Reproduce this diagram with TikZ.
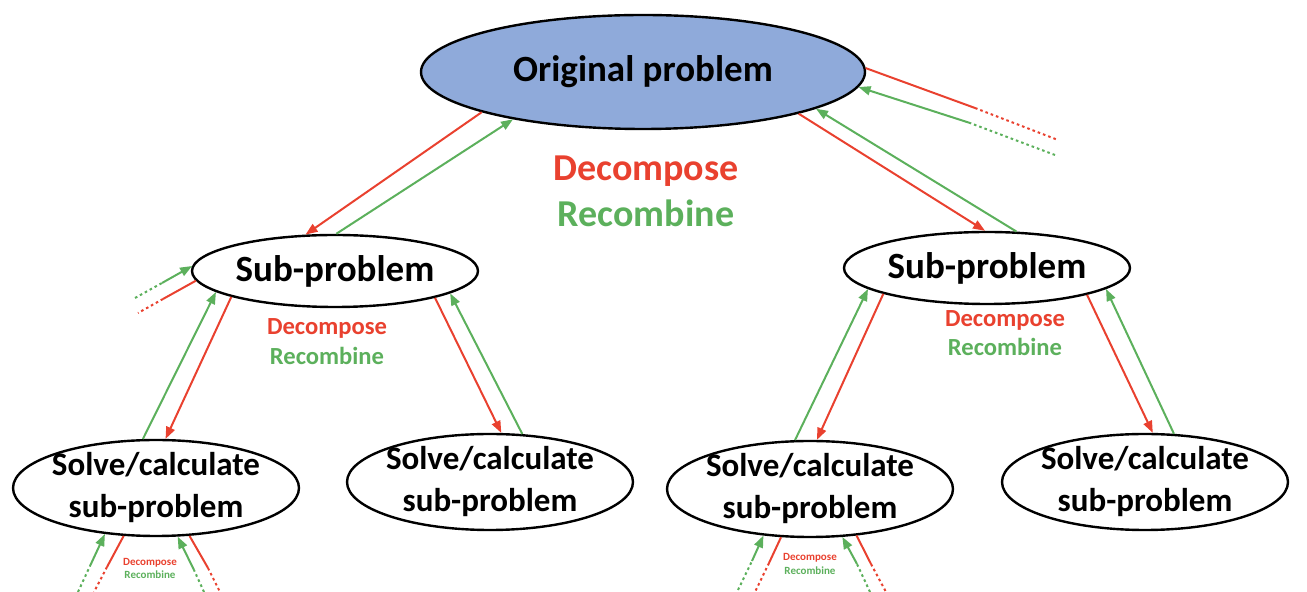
\documentclass[tikz,border=0pt]{standalone}
\usepackage{fontspec}
\setmainfont{Carlito}
\usetikzlibrary{arrows.meta,shapes.geometric}
\definecolor{decred}{RGB}{233,65,47}
\definecolor{recgreen}{RGB}{92,176,92}
\definecolor{origblue}{RGB}{143,170,218}
\newcommand\OpLabels[5]{%
    \node[oplabel,text=decred,font=\fontsize{#5}{#5}\selectfont\bfseries] (#1Dec) at (#2,#3) {Decompose};
    \node[oplabel,text=recgreen,font=\fontsize{#5}{#5}\selectfont\bfseries] (#1Rec) at (#2,#3+#4) {Recombine};
}
\begin{document}
\begin{tikzpicture}[x=0.5pt,y=-0.5pt,
    problem/.style={ellipse,draw,line width=1.2pt,inner sep=-3pt,align=center,font=\bfseries},
    subproblem/.style={problem,minimum width=143pt,minimum height=36pt,font=\fontsize{18.5}{20}\selectfont\bfseries},
    solve/.style={problem,minimum width=143pt,minimum height=48pt,font=\fontsize{16.5}{21}\selectfont\bfseries},
    oplabel/.style={inner sep=0pt,text depth=0pt},
    decomp/.style={draw=decred,line width=1pt},
    recomb/.style={draw=recgreen,line width=1pt},
    tip/.style={-{Triangle[length=6pt,width=4.5pt]}},
    loose/.style={dash pattern=on 1.3pt off 1.5pt}]
    \useasboundingbox (0,0) rectangle (1307,592);
    \node[problem,fill=origblue,minimum width=222pt,minimum height=57pt,font=\fontsize{18.5}{20}\selectfont\bfseries] (orig) at (643,72) {Original problem};
    \node[subproblem] (subL) at (335,271) {Sub-problem};
    \node[subproblem] (subR) at (987,268) {Sub-problem};
    \node[solve] (solveLL) at (156,488) {Solve/calculate\\sub-problem};
    \node[solve] (solveLR) at (490,482) {Solve/calculate\\sub-problem};
    \node[solve] (solveRL) at (810,489) {Solve/calculate\\sub-problem};
    \node[solve] (solveRR) at (1145,482) {Solve/calculate\\sub-problem};
    \OpLabels{top}{646}{168}{45}{19}
    \OpLabels{left}{327}{327}{29}{12.3}
    \OpLabels{right}{1005}{319}{28}{12.3}
    \OpLabels{lowL}{150}{562}{13}{5.5}
    \OpLabels{lowR}{810}{557}{14}{5.5}
    % original <-> sub-problems
    \draw[decomp,tip] (orig.194.7) -- (subL.129.8);
    \draw[recomb,tip] (subL.88.4) -- (orig.200.6);
    \draw[decomp,tip] (orig.345.7) -- (subR.93.1);
    \draw[recomb,tip] (subR.51.3) -- (orig.348.7);
    % sub-problems <-> solve
    \draw[decomp,tip] (subL.194.3) -- (solveLL.79.8);
    \draw[recomb,tip] (solveLL.105.6) -- (subL.190.6);
    \draw[decomp,tip] (subL.345.7) -- (solveLR.77.7);
    \draw[recomb,tip] (solveLR.56) -- (subL.349.4);
    \draw[decomp,tip] (subR.194.4) -- (solveRL.82.5);
    \draw[recomb,tip] (solveRL.107.5) -- (subR.190);
    \draw[decomp,tip] (subR.345.6) -- (solveRR.81.9);
    \draw[recomb,tip] (solveRR.59.7) -- (subR.350.4);
    % loose ends
    \coordinate (trDa) at (975,108); \coordinate (trDb) at (1058,140);
    \coordinate (trRa) at (970,123); \coordinate (trRb) at (1055,155);
    \draw[decomp] (orig.1) -- (trDa);
    \draw[decomp,loose] (trDa) -- (trDb);
    \draw[recomb,loose] (trRb) -- (trRa);
    \draw[recomb,tip] (trRa) -- (orig.356.6);
    \coordinate (lRa) at (162,283); \coordinate (lRb) at (135,298);
    \coordinate (lDa) at (163,299); \coordinate (lDb) at (138,313);
    \draw[recomb,loose] (lRb) -- (lRa);
    \draw[recomb,tip] (lRa) -- (subL.178.4);
    \draw[decomp] (subL.184.8) -- (lDa);
    \draw[decomp,loose] (lDa) -- (lDb);
    \coordinate (llRa) at (90,566);  \coordinate (llRb) at (78,592);
    \coordinate (llDa) at (107,567); \coordinate (llDb) at (94,592);
    \coordinate (llSa) at (194,570); \coordinate (llSb) at (204,592);
    \coordinate (llTa) at (208,568); \coordinate (llTb) at (220,592);
    \draw[recomb,loose] (llRb) -- (llRa);
    \draw[recomb,tip] (llRa) -- (solveLL.222.8);
    \draw[decomp] (solveLL.236.3) -- (llDa);
    \draw[decomp,loose] (llDa) -- (llDb);
    \draw[recomb,loose] (llSb) -- (llSa);
    \draw[recomb,tip] (llSa) -- (solveLL.294.4);
    \draw[decomp] (solveLL.305.9) -- (llTa);
    \draw[decomp,loose] (llTa) -- (llTb);
    \coordinate (rlRa) at (752,561); \coordinate (rlRb) at (738,590);
    \coordinate (rlDa) at (769,563); \coordinate (rlDb) at (755,592);
    \coordinate (rlSa) at (857,564); \coordinate (rlSb) at (870,592);
    \coordinate (rlTa) at (871,564); \coordinate (rlTb) at (886,592);
    \draw[recomb,loose] (rlRb) -- (rlRa);
    \draw[recomb,tip] (rlRa) -- (solveRL.225);
    \draw[decomp] (solveRL.239) -- (rlDa);
    \draw[decomp,loose] (rlDa) -- (rlDb);
    \draw[recomb,loose] (rlSb) -- (rlSa);
    \draw[recomb,tip] (rlSa) -- (solveRL.304.2);
    \draw[decomp] (solveRL.315) -- (rlTa);
    \draw[decomp,loose] (rlTa) -- (rlTb);
\end{tikzpicture}
\end{document}
